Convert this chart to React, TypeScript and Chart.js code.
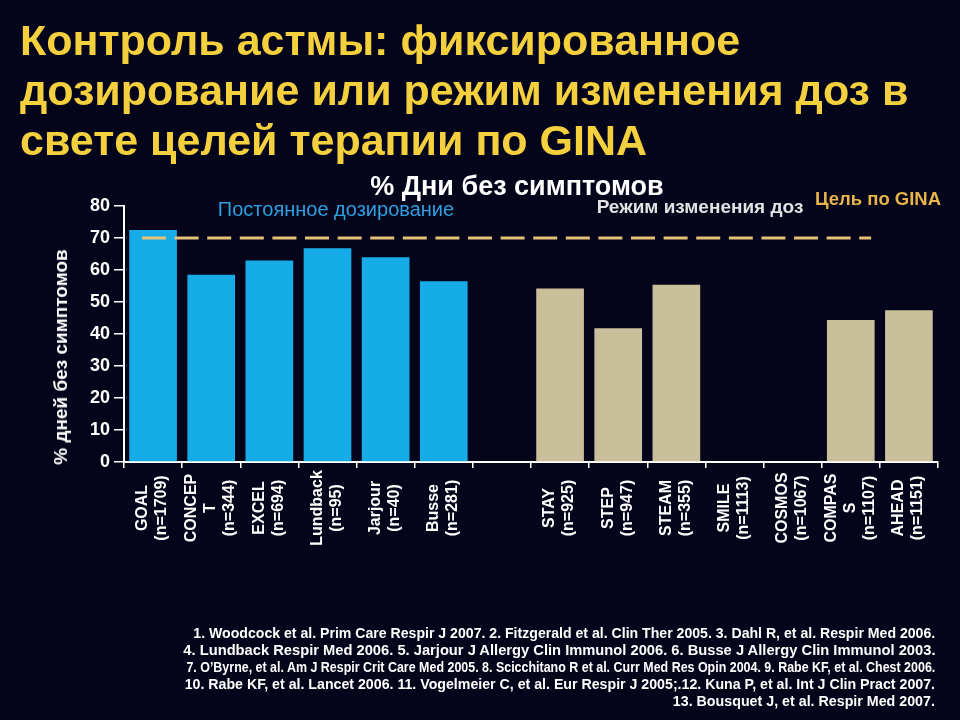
import React, { useEffect, useRef } from "react";
import { Chart, registerables } from "chart.js";

Chart.register(...registerables);

// ---------- data ----------
const studyLabels: string[][] = [
  ["GOAL", "(n=1709)"],
  ["CONCEP", "T", "(n=344)"],
  ["EXCEL", "(n=694)"],
  ["Lundback", "(n=95)"],
  ["Jarjour", "(n=40)"],
  ["Busse", "(n=281)"],
  [],
  ["STAY", "(n=925)"],
  ["STEP", "(n=947)"],
  ["STEAM", "(n=355)"],
  ["SMILE", "(n=1113)"],
  ["COSMOS", "(n=1067)"],
  ["COMPAS", "S", "(n=1107)"],
  ["AHEAD", "(n=1151)"],
];

const fixedDosing: (number | null)[] = [72.5, 58.5, 63, 66.8, 64, 56.5, null, null, null, null, null, null, null, null];
const adjustableDosing: (number | null)[] = [null, null, null, null, null, null, null, 54.2, 41.8, 55.4, null, null, 44.4, 47.4];
const ginaGoal = 70;

const yMin = 0;
const yMax = 80;
const yStep = 10;

const titleLines = [
  "Контроль астмы: фиксированное",
  "дозирование или режим изменения доз в",
  "свете целей терапии по GINA",
];
const chartTitle = "% Дни без симптомов";
const yAxisTitle = "% дней без симптомов";
const fixedLabel = "Постоянное дозирование";
const adjustableLabel = "Режим изменения доз";
const goalLabel = "Цель по GINA";

const footnotes = [
  "1. Woodcock  et al. Prim Care Respir J 2007. 2. Fitzgerald et al. Clin Ther 2005. 3. Dahl R, et al. Respir Med 2006.",
  "4. Lundback Respir Med 2006. 5. Jarjour J Allergy Clin Immunol 2006.  6. Busse J Allergy Clin Immunol 2003.",
  "7. O’Byrne, et al. Am J Respir Crit Care Med 2005. 8. Scicchitano R et al. Curr Med Res Opin 2004. 9. Rabe KF, et al. Chest 2006.",
  "10. Rabe KF, et al. Lancet 2006. 11. Vogelmeier C, et al. Eur Respir J 2005;.12. Kuna P, et al. Int J Clin Pract 2007.",
  "13. Bousquet J, et al. Respir Med 2007.",
];
// horizontal compression of each footnote line (the original uses a condensed face)
const footnoteSqueeze = [0.94, 0.98, 0.83, 0.945, 0.95];

// ---------- styles ----------
const BG = "#04041a";
const BLUE = "#15ace8";
const TAN = "#c9c09b";
const GOLD = "#e6c178";
const SANS = "'Liberation Sans', Arial, sans-serif";

const goalLinePlugin = {
  id: "goalLine",
  afterDatasetsDraw(chart: any) {
    const x = chart.scales.x;
    const y = chart.scales.y;
    const step = x.getPixelForValue(1) - x.getPixelForValue(0);
    const yp = y.getPixelForValue(ginaGoal);
    const x0 = x.getPixelForValue(0) - 0.19 * step;
    const x1 = x.getPixelForValue(12) + 0.35 * step;
    const ctx = chart.ctx;
    ctx.save();
    ctx.strokeStyle = GOLD;
    ctx.lineWidth = 3;
    ctx.setLineDash([24, 8.6]);
    ctx.beginPath();
    ctx.moveTo(x0, yp);
    ctx.lineTo(x1, yp);
    ctx.stroke();
    ctx.restore();
  },
};

const xLabelPlugin = {
  id: "xLabels",
  afterDraw(chart: any) {
    const x = chart.scales.x;
    const ctx = chart.ctx;
    const lh = 19;
    const cy = x.top + 46;
    ctx.save();
    ctx.fillStyle = "#ffffff";
    ctx.font = `bold 16px ${SANS}`;
    ctx.textAlign = "center";
    ctx.textBaseline = "middle";
    studyLabels.forEach((lines, i) => {
      const cx = x.getPixelForValue(i) - 0.5;
      lines.forEach((t, j) => {
        const px = cx + (j - (lines.length - 1) / 2) * lh;
        ctx.save();
        ctx.translate(px, cy);
        ctx.rotate(-Math.PI / 2);
        ctx.fillText(t, 0, 0);
        ctx.restore();
      });
    });
    ctx.restore();
  },
};

function BarChart() {
  const ref = useRef<HTMLCanvasElement | null>(null);
  useEffect(() => {
    if (!ref.current) return;
    const chart = new Chart(ref.current, {
      type: "bar",
      data: {
        labels: studyLabels.map((l) => l.join(" ")),
        datasets: [
          {
            label: fixedLabel,
            data: fixedDosing,
            backgroundColor: BLUE,
            barPercentage: 0.82,
            categoryPercentage: 1,
            grouped: false,
          } as any,
          {
            label: adjustableLabel,
            data: adjustableDosing,
            backgroundColor: TAN,
            barPercentage: 0.82,
            categoryPercentage: 1,
            grouped: false,
          } as any,
        ],
      },
      options: {
        animation: false,
        responsive: false,
        maintainAspectRatio: false,
        layout: { padding: { left: 0, top: 206, right: 22, bottom: 158 } },
        plugins: {
          legend: { display: false },
          tooltip: { enabled: false },
          title: { display: false },
        },
        scales: {
          x: {
            type: "category",
            offset: true,
            grid: {
              offset: true,
              drawOnChartArea: false,
              drawTicks: true,
              tickLength: 6,
              color: "#ffffff",
              lineWidth: 1.5,
            },
            border: { color: "#ffffff", width: 2 },
            ticks: { display: false },
            afterFit: (s: any) => {
              s.height = 100;
            },
          },
          y: {
            min: yMin,
            max: yMax,
            ticks: {
              stepSize: yStep,
              color: "#ffffff",
              font: { family: SANS, size: 18, weight: "bold" },
              padding: 4,
            },
            grid: {
              drawOnChartArea: false,
              drawTicks: true,
              tickLength: 10,
              color: "#ffffff",
              lineWidth: 1.5,
            },
            border: { color: "#ffffff", width: 2 },
            afterFit: (s: any) => {
              s.width = 124;
            },
          },
        },
      } as any,
      plugins: [goalLinePlugin, xLabelPlugin],
    });
    return () => chart.destroy();
  }, []);
  return <canvas ref={ref} width={960} height={720} style={{ position: "absolute", left: 0, top: 0, width: 960, height: 720 }} />;
}

export default function App() {
  const abs = (o: React.CSSProperties): React.CSSProperties => ({ position: "absolute", whiteSpace: "nowrap", ...o });
  return (
    <div style={{ position: "fixed", left: 0, top: 0, width: 960, height: 720, background: BG, overflow: "hidden" }}>
      <BarChart />
      <div style={abs({ left: 20, top: 15, color: "#f4cf3e", font: `bold 43px/50px ${SANS}` })}>
        {titleLines.map((t, i) => (
          <div key={i}>{t}</div>
        ))}
      </div>
      <div style={abs({ left: 517, top: 186, transform: "translate(-50%,-50%)", color: "#ffffff", font: `bold 27px ${SANS}` })}>{chartTitle}</div>
      <div style={abs({ left: 336, top: 209, transform: "translate(-50%,-50%)", color: "#2f9fe0", font: `20px ${SANS}` })}>{fixedLabel}</div>
      <div style={abs({ left: 700, top: 207, transform: "translate(-50%,-50%)", color: "#e2e2e2", font: `bold 19px ${SANS}` })}>{adjustableLabel}</div>
      <div style={abs({ left: 878, top: 199, transform: "translate(-50%,-50%)", color: "#e8b44a", font: `bold 18.5px ${SANS}` })}>{goalLabel}</div>
      <div style={abs({ left: 61, top: 357, transform: "translate(-50%,-50%) rotate(-90deg)", color: "#ffffff", font: `bold 19px ${SANS}` })}>{yAxisTitle}</div>
      <div style={abs({ right: 25, top: 624, textAlign: "right", color: "#ffffff", font: `bold 15px/17px ${SANS}` })}>
        {footnotes.map((t, i) => (
          <div key={i}>
            <span style={{ display: "inline-block", transform: `scaleX(${footnoteSqueeze[i]})`, transformOrigin: "right center" }}>{t}</span>
          </div>
        ))}
      </div>
    </div>
  );
}
